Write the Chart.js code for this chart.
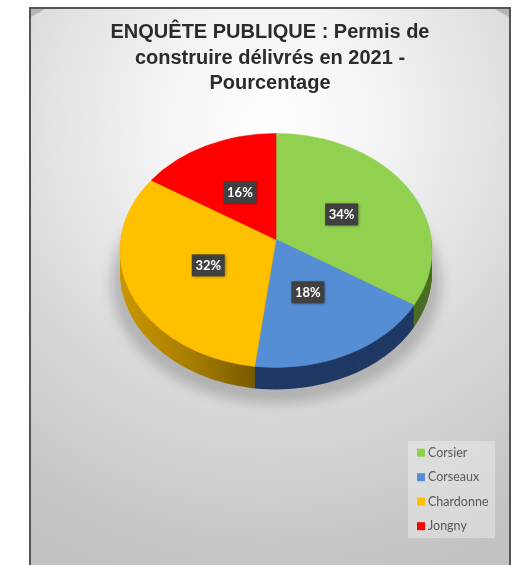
<!DOCTYPE html>
<html><head><meta charset="utf-8">
<style>
html,body{margin:0;padding:0;background:#fff;overflow:hidden;width:524px;height:565px}
#panel{position:absolute;left:29px;top:7px;width:482px;height:570px;box-sizing:border-box;border:2px solid #555;border-bottom:none;
background:radial-gradient(ellipse 470px 480px at 50% 20%,#ffffff 0%,#f3f3f3 25%,#e4e4e4 45%,#d8d8d8 60%,#c6c6c6 90%,#c2c2c2 100%)}
.c{position:absolute;top:9px;width:14px;height:8px;background:#b4b4b4}
#cl{left:31px;clip-path:polygon(0 0,100% 0,0 100%)}
#cr{left:495px;clip-path:polygon(0 0,100% 0,100% 100%)}
canvas{position:absolute;left:0;top:0}
</style>
<script src="https://cdn.jsdelivr.net/npm/chart.js@4/dist/chart.umd.min.js"></script>
</head><body>
<div id="panel"></div><div class="c" id="cl"></div><div class="c" id="cr"></div>
<canvas id="c" width="524" height="565"></canvas>
<script>
const titleLines = ["ENQUÊTE PUBLIQUE : Permis de", "construire délivrés en 2021 -", "Pourcentage"];
const categories = ["Corsier", "Corseaux", "Chardonne", "Jongny"];
const values = [34, 18, 32, 16];
const colors = ["#92D050", "#558ED5", "#FFC000", "#FF0000"];
const sideColors = ["#4A6E24", "#1F3864", "#BF9000", "#9A0000"];

const squash = 0.75, apexLift = 11, depth = 22, labelFactor = 0.48, labelDrop = 2;

function geom(arc){
  const rx = arc.outerRadius, ry = rx * squash, o = apexLift / ry;
  const angle = th => {
    const s = Math.sin(th), c = Math.cos(th);
    const t = -c * o + Math.sqrt(c * c * o * o + 1 - o * o);
    return Math.atan2(-c * t - o, s * t);
  };
  return {rx, ry, ax: arc.x, ay: arc.y - apexLift, cy: arc.y,
    a0: angle(arc.startAngle + Math.PI / 2), a1: angle(arc.endAngle + Math.PI / 2)};
}
function wedge(ctx, arc, dy){
  const g = geom(arc);
  ctx.beginPath();
  ctx.moveTo(g.ax, g.ay + dy);
  ctx.ellipse(g.ax, g.cy + dy, g.rx, g.ry, 0, g.a0, g.a1, false);
  ctx.closePath();
}
function faceDraw(ctx){
  wedge(ctx, this, 0);
  ctx.fillStyle = this.options.backgroundColor;
  ctx.strokeStyle = this.options.backgroundColor;
  ctx.lineWidth = 0.6;
  ctx.fill(); ctx.stroke();
}
const pie3d = {
  id: 'pie3d',
  afterLayout(chart){
    chart.titleBlock.left = 0;
    chart.titleBlock.right = 540;
  },
  beforeDatasetsDraw(chart){
    const ctx = chart.ctx, arcs = chart.getDatasetMeta(0).data, first = arcs[0];
    const rx = first.outerRadius;
    // soft shadow
    ctx.save();
    ctx.filter = 'blur(6px)';
    ctx.fillStyle = 'rgba(90,90,90,0.32)';
    ctx.beginPath();
    ctx.ellipse(first.x, first.y + 32, rx + 9, rx * squash + 4, 0, 0, Math.PI * 2);
    ctx.fill();
    ctx.restore();
    // side wall
    const yellow = ctx.createLinearGradient(first.x - rx, 0, first.x - 24, 0);
    yellow.addColorStop(0, '#C99700');
    yellow.addColorStop(0.55, '#A67D00');
    yellow.addColorStop(1, '#7A5C00');
    ctx.save();
    for (let d = depth; d >= 1; d--) {
      arcs.forEach((arc, i) => {
        wedge(ctx, arc, d);
        ctx.fillStyle = i === 2 ? yellow : sideColors[i];
        ctx.fill();
      });
    }
    ctx.restore();
    arcs.forEach(a => { a.draw = faceDraw; });
  },
  afterDatasetsDraw(chart){
    const ctx = chart.ctx, arcs = chart.getDatasetMeta(0).data;
    // value labels
    arcs.forEach((arc, i) => {
      const g = geom(arc), m = (arc.startAngle + arc.endAngle) / 2 + Math.PI / 2;
      const x = g.ax + Math.sin(m) * g.rx * labelFactor;
      const y = g.ay - Math.cos(m) * g.ry * labelFactor + labelDrop;
      ctx.save();
      ctx.shadowColor = 'rgba(0,0,0,0.45)'; ctx.shadowBlur = 3; ctx.shadowOffsetX = 1; ctx.shadowOffsetY = 1;
      ctx.fillStyle = '#404040';
      ctx.fillRect(x - 16.5, y - 11, 33, 22);
      ctx.restore();
      ctx.fillStyle = '#fff';
      ctx.font = 'bold 13px Lato';
      ctx.textAlign = 'center'; ctx.textBaseline = 'middle';
      ctx.fillText(values[i] + '%', x, y + 0.5);
    });
    // legend
    ctx.fillStyle = 'rgba(255,255,255,0.33)';
    ctx.fillRect(408, 441, 87, 97);
    ctx.textAlign = 'left'; ctx.textBaseline = 'middle';
    ctx.font = '12.5px Lato';
    categories.forEach((name, i) => {
      const y = 452.7 + i * 24.5;
      ctx.fillStyle = colors[i];
      ctx.fillRect(417, y - 4, 8, 8);
      ctx.fillStyle = '#595959';
      ctx.fillText(name, 428, y);
    });
  }
};
new Chart(document.getElementById('c'), {
  type: 'pie',
  data: {labels: categories, datasets: [{data: values, backgroundColor: colors, borderWidth: 0}]},
  plugins: [pie3d],
  options: {
    responsive: false, animation: false,
    layout: {padding: {left: 120, right: 92, top: 0, bottom: 158.5}},
    plugins: {
      legend: {display: false}, tooltip: {enabled: false},
      title: {display: true, text: titleLines, color: '#2b2b2b',
        font: {family: '"Liberation Sans"', size: 20, weight: 'bold', lineHeight: 25.5/20},
        padding: {top: 20, bottom: -2}}
    }
  }
});
</script>
</body></html>
